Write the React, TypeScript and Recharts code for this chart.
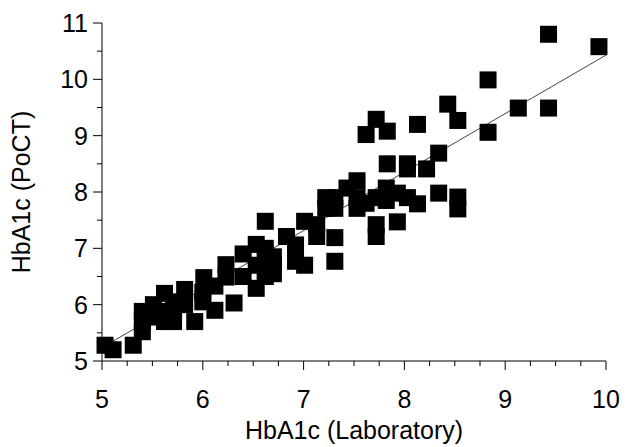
import React from 'react';
import { ScatterChart, Scatter, XAxis, YAxis } from 'recharts';

const labValues = [
  5.03, 5.11, 5.31, 5.40, 5.40, 5.40, 5.51, 5.62, 5.62, 5.62,
  5.71, 5.71, 5.82, 5.82, 5.92, 6.01, 6.00, 6.00, 6.12, 6.12,
  6.23, 6.23, 6.31, 6.40, 6.40, 6.53, 6.53, 6.53, 6.62, 6.62,
  6.62, 6.70, 6.70, 6.83, 6.92, 6.92, 7.01, 7.01, 7.13, 7.13,
  7.22, 7.22, 7.31, 7.31, 7.31, 7.31, 7.43, 7.53, 7.53, 7.53,
  7.62, 7.62, 7.72, 7.72, 7.72, 7.72, 7.83, 7.83, 7.82, 7.82,
  7.93, 7.93, 8.03, 8.03, 8.03, 8.13, 8.13, 8.22, 8.34, 8.34,
  8.43, 8.53, 8.53, 8.53, 8.83, 8.83, 9.13, 9.43, 9.43, 9.93,
  6.62, 6.70, 6.62, 5.72, 5.50,
];
const pocValues = [
  5.28, 5.20, 5.28, 5.88, 5.70, 5.52, 6.00, 6.20, 5.88, 5.70,
  5.90, 5.70, 6.27, 6.00, 5.70, 6.48, 6.22, 6.05, 6.33, 5.90,
  6.71, 6.49, 6.03, 6.90, 6.50, 7.07, 6.29, 6.70, 7.48, 6.90,
  6.50, 6.70, 6.85, 7.21, 7.06, 6.77, 7.48, 6.70, 7.42, 7.21,
  7.90, 7.71, 7.90, 7.71, 7.19, 6.77, 8.07, 8.20, 7.90, 7.71,
  7.80, 9.02, 9.29, 7.90, 7.42, 7.21, 9.08, 8.50, 8.07, 7.85,
  7.47, 7.98, 8.50, 8.41, 7.90, 9.20, 7.79, 8.41, 8.69, 7.98,
  9.56, 9.27, 7.91, 7.70, 9.99, 9.06, 9.49, 10.80, 9.49, 10.58,
  7.00, 6.55, 6.60, 6.05, 5.78,
];
const fitLab = [5.05, 10.0];
const fitPoc = [5.29, 10.43];

const xTicks = [5, 5.25, 5.5, 5.75, 6, 6.25, 6.5, 6.75, 7, 7.25, 7.5, 7.75, 8, 8.25, 8.5, 8.75, 9, 9.25, 9.5, 9.75, 10];
const yTicks = [5, 5.5, 6, 6.5, 7, 7.5, 8, 8.5, 9, 9.5, 10, 10.5, 11];

const points = labValues.map((x, i) => ({ x, y: pocValues[i] }));
const fitLine = fitLab.map((x, i) => ({ x, y: fitPoc[i] }));

const FONT = '"Liberation Sans", Arial, sans-serif';

const XTick = (props: any) => {
  const { x, y, payload } = props;
  const major = Number.isInteger(payload.value);
  return (
    <g>
      <line x1={x} y1={y} x2={x} y2={y + (major ? 9 : 5)} stroke="#000" strokeWidth={1} />
      {major && (
        <text x={x} y={y + 47} textAnchor="middle" fontSize={25} fontFamily={FONT} fill="#000">
          {payload.value}
        </text>
      )}
    </g>
  );
};

const YTick = (props: any) => {
  const { x, y, payload } = props;
  const major = Number.isInteger(payload.value);
  return (
    <g>
      <line x1={x} y1={y} x2={x - (major ? 9 : 5)} y2={y} stroke="#000" strokeWidth={1} />
      {major && (
        <text x={x - 14} y={y + 9} textAnchor="end" fontSize={25} fontFamily={FONT} fill="#000">
          {payload.value}
        </text>
      )}
    </g>
  );
};

const Square = (p: any) => (
  <rect x={p.cx - 8.5} y={p.cy - 8.5} width={17} height={17} fill="#000" />
);

export default function App() {
  return (
    <div style={{ position: 'absolute', left: 0, top: 0, width: 626, height: 447, background: '#fff' }}>
      <ScatterChart width={626} height={447} margin={{ top: 23, right: 20, bottom: 0, left: 0 }}>
        <XAxis
          type="number"
          dataKey="x"
          domain={[5, 10]}
          ticks={xTicks}
          interval={0}
          tick={<XTick />}
          tickLine={false}
          tickSize={0}
          tickMargin={0}
          height={86}
          axisLine={{ stroke: '#000', strokeWidth: 1 }}
          label={{
            content: () => (
              <text x={354} y={439} textAnchor="middle" fontSize={25} fontFamily={FONT} fill="#000">
                HbA1c (Laboratory)
              </text>
            ),
          }}
        />
        <YAxis
          type="number"
          dataKey="y"
          domain={[5, 11]}
          ticks={yTicks}
          interval={0}
          tick={<YTick />}
          tickLine={false}
          tickSize={0}
          tickMargin={0}
          width={102}
          axisLine={{ stroke: '#000', strokeWidth: 1 }}
          label={{
            content: () => (
              <text
                x={0}
                y={0}
                transform="translate(30,192) rotate(-90)"
                textAnchor="middle"
                fontSize={25}
                fontFamily={FONT}
                fill="#000"
              >
                HbA1c (PoCT)
              </text>
            ),
          }}
        />
        <Scatter
          data={fitLine}
          line={{ stroke: '#444', strokeWidth: 1 }}
          lineType="joint"
          shape={() => null}
          isAnimationActive={false}
        />
        <Scatter data={points} shape={Square} isAnimationActive={false} />
      </ScatterChart>
    </div>
  );
}
